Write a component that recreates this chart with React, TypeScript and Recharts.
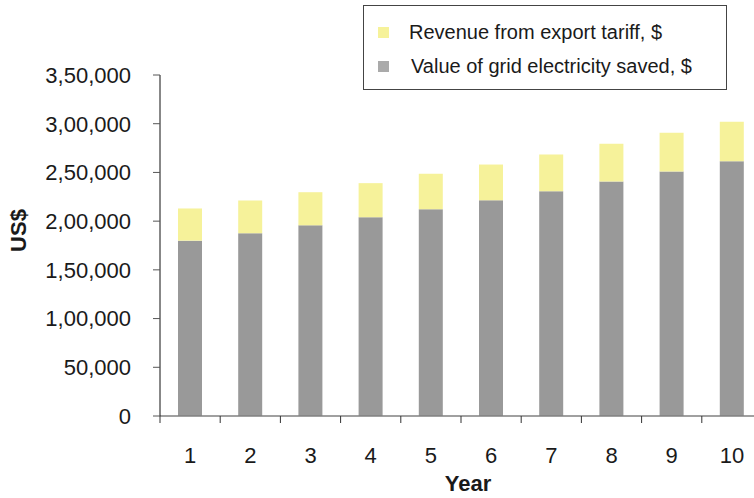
import React from "react";
import { BarChart, Bar, XAxis, YAxis } from "recharts";

const years = ["1", "2", "3", "4", "5", "6", "7", "8", "9", "10"];
const gridSaved = [180000, 187500, 195700, 204000, 212200, 221400, 230700, 240700, 251000, 261600];
const exportRevenue = [33000, 33600, 34000, 35000, 36400, 36700, 37700, 38800, 39800, 40500];
const yTicks = [0, 50000, 100000, 150000, 200000, 250000, 300000, 350000];

const series = [
  { key: "revenue", name: "Revenue from export tariff, $", color: "#F6F29A" },
  { key: "saved", name: "Value of grid electricity saved, $", color: "#999999" },
];

const data = years.map((year, i) => ({
  year,
  saved: gridSaved[i],
  revenue: exportRevenue[i],
}));

const font = "'Liberation Sans', Arial, Helvetica, sans-serif";
const X_TICK_SIZE = 7;
const X_TICK_MARGIN = 24;

// indian style grouping: 3,50,000
const formatIndian = (v: number) => {
  const s = String(Math.round(v));
  if (s.length <= 3) return s;
  const last3 = s.slice(-3);
  let rest = s.slice(0, -3);
  const parts: string[] = [];
  while (rest.length > 2) {
    parts.unshift(rest.slice(-2));
    rest = rest.slice(0, -2);
  }
  if (rest) parts.unshift(rest);
  return parts.join(",") + "," + last3;
};

const tickStyle = { fontSize: 22, fill: "#1a1a1a", fontFamily: font };

// year label in the middle of the band, tick marks on the band edges
const YearTick = (props: any) => {
  const { x, y, payload, index, visibleTicksCount } = props;
  const axisY = y - X_TICK_SIZE - X_TICK_MARGIN;
  const half = payload?.offset ?? 0;
  return (
    <g>
      <line x1={x - half} x2={x - half} y1={axisY} y2={axisY + X_TICK_SIZE} stroke="#333" />
      {index === visibleTicksCount - 1 && (
        <line x1={x + half} x2={x + half} y1={axisY} y2={axisY + X_TICK_SIZE} stroke="#333" />
      )}
      <text x={x} y={y} dy="0.71em" textAnchor="middle" {...tickStyle}>
        {payload.value}
      </text>
    </g>
  );
};

export default function App() {
  return (
    <div
      style={{
        position: "fixed",
        left: 0,
        top: 0,
        width: 754,
        height: 498,
        overflow: "hidden",
        background: "#fff",
        fontFamily: font,
      }}
    >
      <BarChart
        width={770}
        height={498}
        data={data}
        barSize={24}
        margin={{ top: 75, right: 8, left: 0, bottom: 0 }}
      >
        <XAxis
          dataKey="year"
          height={82}
          axisLine={{ stroke: "#808080", strokeWidth: 1.5 }}
          tickLine={false}
          tickSize={X_TICK_SIZE}
          tickMargin={X_TICK_MARGIN}
          tick={<YearTick />}
          label={{
            value: "Year",
            position: "insideBottom",
            offset: 7,
            dx: 7,
            style: { fontSize: 22, fontWeight: "bold", fill: "#1a1a1a", fontFamily: font },
          }}
        />
        <YAxis
          width={160}
          domain={[0, 350000]}
          ticks={yTicks}
          tickFormatter={formatIndian}
          tickSize={7}
          tickMargin={22}
          tick={tickStyle}
          axisLine={{ stroke: "#111" }}
          tickLine={{ stroke: "#555" }}
          label={{
            value: "US$",
            angle: -90,
            position: "insideLeft",
            offset: 18,
            dy: -15,
            textAnchor: "middle",
            style: { fontSize: 22, fontWeight: "bold", fill: "#1a1a1a", fontFamily: font, textAnchor: "middle" },
          }}
        />
        <Bar dataKey="saved" stackId="a" fill="#999999" isAnimationActive={false} />
        <Bar dataKey="revenue" stackId="a" fill="#F6F29A" isAnimationActive={false} />
      </BarChart>
      <div
        style={{
          position: "absolute",
          left: 363,
          top: 5,
          width: 362,
          height: 83,
          border: "1px solid #444",
          boxSizing: "content-box",
        }}
      >
        {series.map((s, i) => (
          <div
            key={s.key}
            style={{
              position: "absolute",
              left: 14,
              top: i === 0 ? 14 : 48,
              height: 24,
              display: "flex",
              alignItems: "center",
              fontSize: 20,
              color: "#1a1a1a",
              whiteSpace: "nowrap",
            }}
          >
            <span
              style={{
                display: "inline-block",
                width: 11,
                height: 11,
                background: s.key === "saved" ? "#aaaaaa" : s.color,
                marginRight: 20,
              }}
            />
            <span style={{ marginLeft: i === 0 ? 0 : 2 }}>{s.name}</span>
          </div>
        ))}
      </div>
    </div>
  );
}
